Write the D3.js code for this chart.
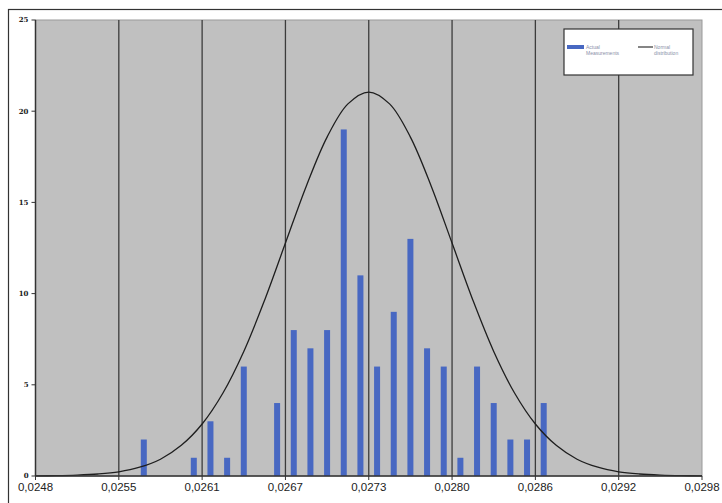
<!DOCTYPE html>
<meta charset="utf-8">
<html>
<head>
  <title>Measurements histogram</title>
  <style>
    body { margin: 0; background: #fff; }
    svg { display: block; }
    .xlab { font-family: 'Liberation Sans', Arial, sans-serif; font-size: 11.5px; fill: #222; }
    .ylab { font-family: 'DejaVu Serif', serif; font-size: 7px; fill: #222; font-weight: bold; }
    .leg { font-family: 'Liberation Sans', Arial, sans-serif; font-size: 5px; fill: #8a8fa8; }
  </style>
  <script src="https://d3js.org/d3.v7.min.js"></script>
</head>
<body>
  <svg width="722" height="503"></svg>
  <script>
    // bins of 0.000125 from 0.0248 to 0.0298 (only non-empty ones listed)
    var binStart = [0.02555, 0.025925, 0.02605, 0.026175, 0.0263, 0.02655, 0.026675, 0.0268, 0.026925,
                    0.02705, 0.027175, 0.0273, 0.027425, 0.02755, 0.027675, 0.0278, 0.027925, 0.02805,
                    0.028175, 0.0283, 0.028425, 0.02855];
    var counts   = [2, 1, 3, 1, 6, 4, 8, 7, 8, 19, 11, 6, 9, 13, 7, 6, 1, 6, 4, 2, 2, 4];
    var binWidth = 0.000125;

    // normal curve every quarter grid step (0.00015625)
    var curveX = d3.range(33).map(function(k) { return 0.0248 + k * 0.00015625; });
    var curveY = [0.01, 0.02, 0.05, 0.11, 0.23, 0.48, 0.92, 1.68, 2.85, 4.55, 6.83, 9.64, 12.77, 15.89, 18.58, 20.4,
                  21.05,
                  20.4, 18.58, 15.89, 12.77, 9.64, 6.83, 4.55, 2.85, 1.68, 0.92, 0.48, 0.23, 0.11, 0.05, 0.02, 0.01];

    // tick positions and the labels as printed on the chart
    var xTicks = [0.0248, 0.025425, 0.02605, 0.026675, 0.0273, 0.027925, 0.02855, 0.029175, 0.0298];
    var xTickLabels = ["0,0248", "0,0255", "0,0261", "0,0267", "0,0273", "0,0280", "0,0286", "0,0292", "0,0298"];
    var yTicks = [0, 5, 10, 15, 20, 25];

    var svg = d3.select("svg");
    // plot area edges (don't call these top/left: window.top is read-only)
    var pLeft = 35.5, pRight = 702, pTop = 20, pBottom = 476;

    var x = d3.scaleLinear().domain([0.0248, 0.0298]).range([pLeft, pRight]);
    var y = d3.scaleLinear().domain([0, 25]).range([pBottom, pTop]);

    // outer chart frame (cut off by the picture on the right and bottom)
    svg.append("rect")
      .attr("x", 8.5).attr("y", 9.5).attr("width", 760).attr("height", 520)
      .attr("fill", "none").attr("stroke", "#333").attr("stroke-width", 1.2);

    // plot area
    svg.append("rect")
      .attr("x", pLeft).attr("y", pTop).attr("width", pRight - pLeft).attr("height", pBottom - pTop)
      .attr("fill", "#c0c0c0").attr("stroke", "#9a9a9a").attr("stroke-width", 1);

    // vertical grid lines
    svg.append("g").selectAll("line")
      .data(xTicks.slice(1, -1))
      .enter().append("line")
        .attr("x1", function(d) { return x(d); })
        .attr("x2", function(d) { return x(d); })
        .attr("y1", pTop).attr("y2", pBottom)
        .attr("stroke", "#3c3c3c").attr("stroke-width", 1.3);

    // bars
    svg.append("g").selectAll("rect")
      .data(counts)
      .enter().append("rect")
        .attr("x", function(d, i) { return x(binStart[i] + binWidth / 2) - 3; })
        .attr("y", function(d) { return y(d); })
        .attr("width", 6)
        .attr("height", function(d) { return y(0) - y(d); })
        .attr("fill", "#4868c2");

    // normal distribution
    var line = d3.line()
      .x(function(d, i) { return x(curveX[i]); })
      .y(function(d) { return y(d); })
      .curve(d3.curveCatmullRom);

    svg.append("path")
      .attr("d", line(curveY))
      .attr("fill", "none").attr("stroke", "#1e1e1e").attr("stroke-width", 1.3);

    // axes
    svg.append("line").attr("x1", pLeft).attr("x2", pLeft).attr("y1", pTop).attr("y2", pBottom)
      .attr("stroke", "#333").attr("stroke-width", 1.5);
    svg.append("line").attr("x1", pLeft).attr("x2", pRight).attr("y1", pBottom).attr("y2", pBottom)
      .attr("stroke", "#333").attr("stroke-width", 1.5);

    var xt = svg.append("g").selectAll("g")
      .data(xTicks)
      .enter().append("g")
        .attr("transform", function(d) { return "translate(" + x(d) + ",0)"; });
    xt.append("line").attr("y1", pBottom).attr("y2", pBottom + 4).attr("stroke", "#333");
    xt.append("text").attr("class", "xlab")
      .attr("y", pBottom + 15).attr("text-anchor", "middle")
      .text(function(d, i) { return xTickLabels[i]; });

    var yt = svg.append("g").selectAll("g")
      .data(yTicks)
      .enter().append("g")
        .attr("transform", function(d) { return "translate(0," + y(d) + ")"; });
    yt.append("line").attr("x1", pLeft - 4).attr("x2", pLeft).attr("stroke", "#333");
    yt.append("text").attr("class", "ylab")
      .attr("x", pLeft - 7).attr("dy", "0.35em").attr("text-anchor", "end")
      .text(function(d) { return d; });

    // legend
    var lg = svg.append("g").attr("transform", "translate(564,29)");
    lg.append("rect").attr("width", 129).attr("height", 46)
      .attr("fill", "#fff").attr("stroke", "#333").attr("stroke-width", 1.2);
    lg.append("rect").attr("x", 3).attr("y", 16).attr("width", 17).attr("height", 4).attr("fill", "#4868c2");
    lg.append("text").attr("class", "leg").attr("x", 22).attr("y", 19.5).text("Actual");
    lg.append("text").attr("class", "leg").attr("x", 22).attr("y", 25.5).text("Measurements");
    lg.append("line").attr("x1", 74).attr("x2", 89).attr("y1", 18).attr("y2", 18)
      .attr("stroke", "#333").attr("stroke-width", 1.2);
    lg.append("text").attr("class", "leg").attr("x", 90).attr("y", 19.5).text("Normal");
    lg.append("text").attr("class", "leg").attr("x", 90).attr("y", 25.5).text("distribution");
  </script>
</body>
</html>
